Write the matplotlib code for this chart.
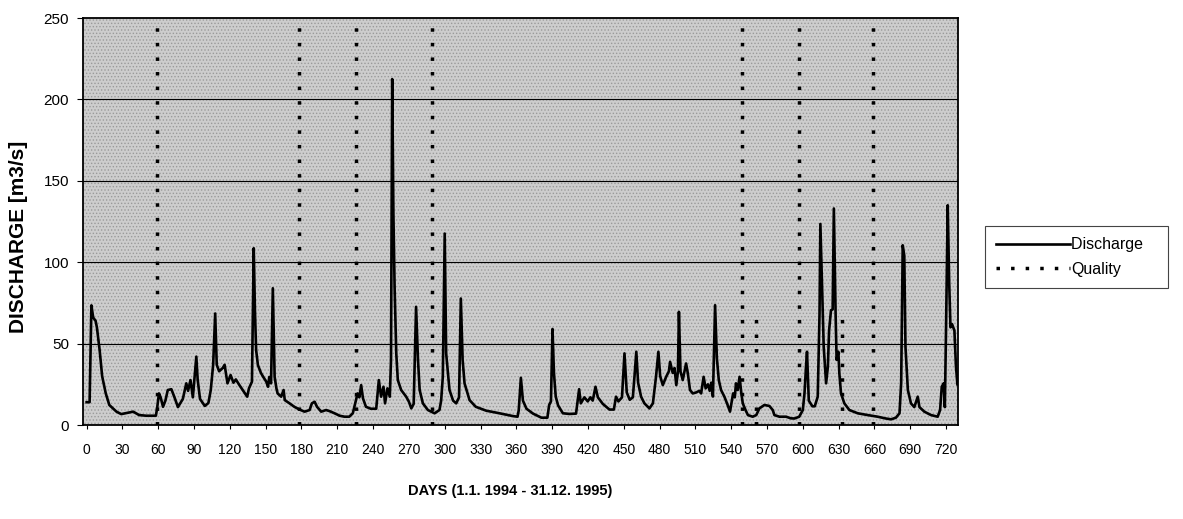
import matplotlib
matplotlib.use("Agg")
import matplotlib.pyplot as plt
from matplotlib.patches import Rectangle

plt.rcParams['font.family'] = ['Liberation Sans', 'DejaVu Sans']
plt.rcParams['hatch.linewidth'] = 0.6

# daily discharge, read as (day, m3/s) break points
days = [0, 2.5, 4, 5.5, 7.5, 8.6, 10.9, 13, 16, 19, 25, 29, 33, 39, 44, 50, 58, 59, 60.6, 62,
        64, 66, 68, 71, 73.6, 76.5, 80.6, 83.5, 85, 87, 89, 91.9, 93, 95, 99, 102, 104, 106, 107.7, 109,
        111, 114, 115.6, 118, 120.6, 123, 125, 128, 131.8, 134.5, 136, 138.5, 140, 141, 142, 143.5, 146, 148, 150.5, 152,
        153, 154.5, 156, 157.5, 159, 160, 163, 165, 166, 170, 174, 178, 182.6, 186.8, 188.7, 191, 193, 196.5, 200.6, 203.6,
        207.7, 212, 216, 220, 223, 225, 227, 228.5, 230, 231.5, 234, 238, 242.6, 244.8, 246.7, 248.7, 250, 252, 254, 255,
        256, 257, 258, 259.4, 260.7, 263.5, 267.7, 270, 272, 274, 276, 277.6, 279, 281.7, 285.9, 291.5, 295.6, 297, 298.4, 300,
        301.2, 304, 307, 309.6, 312, 313.5, 315, 316.6, 320.8, 326, 334.7, 345.9, 357, 361, 362, 363.8, 365.5, 368.5, 374, 381,
        386, 387.5, 389, 390.3, 391.5, 393, 395, 399, 404.5, 410, 412.6, 414, 417, 419.8, 422, 424, 426.3, 428.3, 432.4, 438,
        441.7, 443.5, 445.5, 448.5, 450.6, 452.5, 455, 457.6, 459, 460.5, 462, 464.5, 467.3, 471.5, 474.4, 477, 479, 480.5, 482.7, 485.5,
        487.8, 488.8, 491, 492.5, 494, 495.4, 496.2, 497.5, 499.4, 502.2, 503.6, 505.5, 507.8, 510.6, 513.4, 514.8, 516.9, 518.6, 520.5, 522,
        523.3, 524.7, 526.5, 528, 529.6, 531.5, 534.3, 537, 539, 541.6, 543, 544, 545.5, 547, 548.5, 549.7, 552, 554, 558, 561,
        563.6, 567.8, 572, 574.8, 576.2, 580.4, 586, 590, 593, 597, 600, 601.4, 602.7, 603.5, 605, 608, 610, 612.5, 614, 614.7,
        616, 617.5, 619.5, 621, 622, 623.6, 625, 626, 627.5, 628.3, 629.8, 630.6, 632, 634.8, 639, 646, 654.4, 662.7, 669.5, 674,
        678, 681, 682.4, 683.7, 685, 686, 688, 690.6, 693.4, 696.3, 697.7, 701.8, 707.4, 713, 715, 716.4, 718, 719, 720, 721.4,
        722.6, 723.7, 725, 727, 728.3, 729.5]
discharge = [14, 14, 73.5, 66, 64, 60, 46, 30, 19.5, 12.3, 8.2, 6.7, 7.3, 8.2, 6.1, 5.7, 5.7, 10, 19.4, 17,
             11.2, 15, 21.5, 22, 17, 11, 16, 25.6, 21, 27.6, 17, 42, 28, 16, 11.7, 13.5, 21.5, 37, 68.5, 37,
             33, 35, 37, 25.6, 30.7, 26, 28, 24.5, 20.4, 17.4, 22.5, 26.6, 108.6, 70.5, 46, 36.8, 32, 29.5, 26.6, 23.5,
             29.5, 25.6, 84, 29.6, 22.5, 19.4, 17.4, 21.5, 15.3, 13.3, 11.2, 9.6, 8.2, 9.2, 13.3, 14.3, 11.2, 8.2, 9.2, 8.5,
             7.2, 5.7, 5.1, 5.1, 7.2, 13.3, 19.4, 17, 24.5, 16.4, 11.2, 10, 10, 27.6, 17.4, 23.5, 13.3, 22.5, 17.4, 40,
             212.5, 130, 85, 44, 27.6, 21.5, 17.4, 14.3, 10.2, 13, 72.6, 40, 21.5, 13.3, 9.2, 7.2, 9.2, 15, 29.6, 117.6,
             44, 21.5, 15, 13.3, 17, 77.7, 40, 25.6, 15.3, 11.2, 8.8, 7.2, 5.5, 5.1, 9, 29, 15, 10, 7, 4.5,
             4.5, 12.3, 14.5, 59, 32, 17.4, 12, 7.2, 6.8, 7, 22, 13.3, 17, 14.5, 17, 15, 23.5, 17, 13, 9.5,
             9.5, 17.4, 14.5, 17, 44, 20, 15.5, 17, 30, 45, 26, 17.4, 13.3, 10.2, 13.3, 29.6, 45, 30, 24.5, 29.6,
             33, 38.8, 32, 35, 24.5, 33, 69.5, 33, 27.6, 37.8, 32, 21.5, 19.4, 20, 21, 19.4, 29.6, 22.5, 25, 21,
             26, 17.5, 73.6, 41, 27.6, 21.5, 17.4, 12.3, 8.2, 19.4, 17, 25.6, 21.5, 29.6, 19.4, 13.3, 9.2, 6.1, 5.1, 6.1,
             10.2, 12.3, 11.7, 9.2, 6.1, 5.1, 5.1, 4.1, 4, 5.1, 9.2, 19.4, 36, 45, 15, 11.5, 11.5, 17.4, 68.5, 123.5,
             88, 48, 25.6, 36, 58, 70.5, 71, 133, 67, 40, 45, 31.7, 19.4, 13.3, 9.2, 7.2, 6.1, 5.1, 4, 3.5,
             4.5, 7.2, 26, 110.4, 104, 48, 21.5, 13.3, 11, 17.4, 11, 8.2, 6.1, 5.1, 9.2, 23.5, 25.6, 11, 60, 135,
             88, 60, 62, 58, 36, 25]

# water quality sampling days and the height of their markers
quality_days = [59, 178, 226, 289, 549, 561, 597, 633, 659]
quality_top = [250, 250, 250, 250, 250, 70, 250, 70, 250]

x_ticks = list(range(0, 721, 30))
y_ticks = [0, 50, 100, 150, 200, 250]

fig = plt.figure(figsize=(11.83, 5.19), dpi=100)
ax = fig.add_axes([0.0702, 0.1811, 0.7396, 0.7842])

# stippled grey plot area
ax.set_facecolor('#cdcdcd')
ax.add_patch(Rectangle((0, 0), 1, 1, transform=ax.transAxes, facecolor='none',
                       edgecolor='#9a9a9a', hatch='.....', lw=0, zorder=0))

for yv in y_ticks[1:-1]:
    ax.axhline(yv, color='black', lw=0.8, zorder=1)

ax.vlines(quality_days, 0, quality_top, colors='black', linestyles=(0, (1, 3.2)),
          lw=2.5, zorder=2, label='Quality')
ax.plot(days, discharge, color='black', lw=1.9, zorder=3, label='Discharge')

ax.set_xlim(-3, 730)
ax.set_ylim(0, 250)
ax.set_xticks(x_ticks)
ax.set_yticks(y_ticks)
ax.tick_params(axis='x', length=3, pad=10, labelsize=10)
ax.tick_params(axis='y', length=4, pad=6, labelsize=11)
for sp in ax.spines.values():
    sp.set_linewidth(1.3)
    sp.set_color('black')

fig.text(0.016, 0.543, 'DISCHARGE [m3/s]', fontsize=15, fontweight='bold',
         rotation=90, ha='center', va='center')
fig.text(0.431, 0.054, 'DAYS (1.1. 1994 - 31.12. 1995)', fontsize=10.5,
         fontweight='bold', ha='center', va='center')

handles, labels = ax.get_legend_handles_labels()
leg = ax.legend(handles[::-1], ['Discharge   ', 'Quality'], loc='center left',
                bbox_to_anchor=(0.8326, 0.5048), bbox_transform=fig.transFigure,
                borderaxespad=0, fontsize=11.5, handlelength=4.6, handletextpad=0.1,
                fancybox=False, framealpha=1, edgecolor='#444444', borderpad=0.7,
                labelspacing=0.6)
leg.get_frame().set_linewidth(0.8)
for h in leg.get_lines():
    if h.get_label() == 'Quality':
        h.set_linestyle((0, (2, 4)))
        h.set_linewidth(1.6)

fig.savefig('out.png', dpi=100)
